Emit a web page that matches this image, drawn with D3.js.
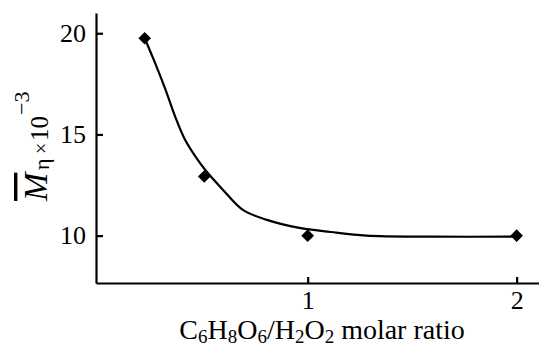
<!DOCTYPE html>
<html>
<head>
<meta charset="utf-8">
<script src="https://cdn.jsdelivr.net/npm/d3@7"></script>
<style>
  body { margin: 0; background: #fff; }
</style>
</head>
<body>
<svg id="chart" width="539" height="346"></svg>
<script>
// measured points
var ratio = [0.22, 0.505, 1, 2]
var mass = [19.75, 12.92, 10.0, 10.0]

// fitted curve
var fitRatio = [0.22, 0.27, 0.32, 0.365, 0.41, 0.46, 0.51, 0.595, 0.69, 0.805, 0.96, 1.11, 1.28, 1.6, 2.0]
var fitMass = [19.75, 18.52, 17.2, 15.9, 14.8, 13.95, 13.24, 12.26, 11.27, 10.78, 10.38, 10.18, 10.0, 9.95, 9.95]

var xTicks = [1, 2]
var yTicks = [10, 15, 20]

var serif = "'Liberation Serif', serif"

var dims = {left: 96, right: 539, top: 13, bottom: 283}

var svg = d3.select("#chart")

var x = d3.scaleLinear()
    .domain([-0.013, 2.107])
    .range([dims.left, dims.right])

var y = d3.scaleLinear()
    .domain([7.66, 21.0])
    .range([dims.bottom, dims.top])

svg.append("g")
    .attr("transform", "translate(0," + dims.bottom + ")")
    .call(d3.axisBottom(x).tickValues(xTicks).tickFormat(d3.format("d"))
        .tickSizeInner(-6).tickSizeOuter(0).tickPadding(8))

svg.append("g")
    .attr("transform", "translate(" + dims.left + ",0)")
    .call(d3.axisLeft(y).tickValues(yTicks).tickFormat(d3.format("d"))
        .tickSizeInner(-7).tickSizeOuter(0).tickPadding(10))

svg.selectAll("g").attr("font-family", serif).attr("font-size", 26)
svg.selectAll(".domain, .tick line")
    .attr("stroke", "#000")
    .attr("stroke-width", 2.2)

// fitted line
var line = d3.line()
    .x(function(d, i){ return x(fitRatio[i]) })
    .y(function(d){ return y(d) })
    .curve(d3.curveCatmullRom.alpha(0.5))

svg.append("path")
    .datum(fitMass)
    .attr("fill", "none")
    .attr("stroke", "#000")
    .attr("stroke-width", 2.2)
    .attr("d", line)

// diamonds
svg.append("g")
    .selectAll("path")
    .data(mass)
    .enter()
    .append("path")
        .attr("d", d3.symbol().type(d3.symbolSquare).size(80))
        .attr("transform", function(d, i){
            return "translate(" + x(ratio[i]) + "," + y(d) + ") rotate(45)"
        })
        .attr("fill", "#000")

// x label
var xl = svg.append("text")
    .attr("x", 322)
    .attr("y", 339)
    .attr("text-anchor", "middle")
    .attr("font-family", serif)
    .attr("font-size", 28)
var parts = [["C", 0], ["6", 1], ["H", 0], ["8", 1], ["O", 0], ["6", 1], ["/H", 0], ["2", 1], ["O", 0], ["2", 1], [" molar ratio", 0]]
parts.forEach(function(p, i){
    var prev = i > 0 ? parts[i-1][1] : 0
    xl.append("tspan")
        .attr("dy", p[1] && !prev ? 3.5 : (!p[1] && prev ? -3.5 : 0))
        .attr("font-size", p[1] ? 19 : 28)
        .text(p[0])
})

// y label (rotated)
var yl = svg.append("g")
    .attr("transform", "translate(48,201) rotate(-90)")
    .attr("font-family", serif)
yl.append("text").attr("x", 0).attr("y", -1).attr("font-size", 34)
    .attr("font-style", "italic").style("text-decoration", "overline").text("M")
yl.append("text").attr("x", 31).attr("y", 1).attr("font-size", 22).text("η")
yl.append("text").attr("x", 47).attr("y", 0).attr("font-size", 20).text("×")
yl.append("text").attr("x", 60).attr("y", 0).attr("font-size", 25).text("10")
yl.append("text").attr("x", 86).attr("y", -19).attr("font-size", 22).text("−3")
</script>
</body>
</html>
